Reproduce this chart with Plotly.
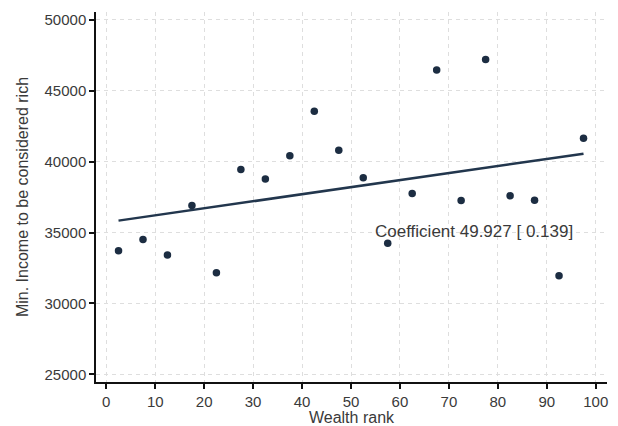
import numpy as np
import plotly.graph_objects as go

wealth_rank = [2.5, 7.5, 12.5, 17.5, 22.5, 27.5, 32.5, 37.5, 42.5, 47.5,
               52.5, 57.5, 62.5, 67.5, 72.5, 77.5, 82.5, 87.5, 92.5, 97.5]
min_income = [33720, 34500, 33420, 36900, 32170, 39440, 38760, 40410, 43540, 40800,
              38860, 34240, 37750, 46450, 37250, 47190, 37580, 37270, 31960, 41630]
x_ticks = [0, 10, 20, 30, 40, 50, 60, 70, 80, 90, 100]
y_ticks = [25000, 30000, 35000, 40000, 45000, 50000]
y_tick_labels = ["25000", "30000", "35000", "40000", "45000", "50000"]
coef_text = "Coefficient 49.927 [ 0.139]"

slope, intercept = np.polyfit(wealth_rank, min_income, 1)
fit_x = [wealth_rank[0], wealth_rank[-1]]
fit_y = [intercept + slope * v for v in fit_x]

font = "Liberation Sans, Arial, sans-serif"
fig = go.Figure()
fig.add_trace(go.Scatter(x=fit_x, y=fit_y, mode="lines",
                         line=dict(color="#22364d", width=2.5), showlegend=False))
fig.add_trace(go.Scatter(x=wealth_rank, y=min_income, mode="markers",
                         marker=dict(color="#1c2d42", size=7.5), showlegend=False))
fig.add_annotation(x=75.2, y=35050, text=coef_text, showarrow=False,
                   font=dict(family=font, size=17, color="#3a3a3a"))

axis_common = dict(showline=True, linecolor="#111", linewidth=1.5, ticks="outside",
                   ticklen=5, tickwidth=1.5, tickcolor="#111", automargin=False,
                   showgrid=True, gridcolor="#dedede", griddash="4px,4px", gridwidth=1,
                   zeroline=False, tickfont=dict(family=font, size=15, color="#3a3a3a"))
fig.update_xaxes(range=[-2.1, 102.3], tickvals=x_ticks,
                 title=dict(text="Wealth rank", standoff=3,
                            font=dict(family=font, size=16, color="#3a3a3a")),
                 **axis_common)
fig.update_yaxes(range=[24470, 50530], tickvals=y_ticks, ticktext=y_tick_labels,
                 title=dict(text="Min. Income to be considered rich", standoff=12,
                            font=dict(family=font, size=16, color="#3a3a3a")),
                 **axis_common)
fig.update_layout(width=610, height=418, plot_bgcolor="white", paper_bgcolor="white",
                  margin=dict(l=88, r=11, t=4, b=44))
fig.write_html("out.html")
